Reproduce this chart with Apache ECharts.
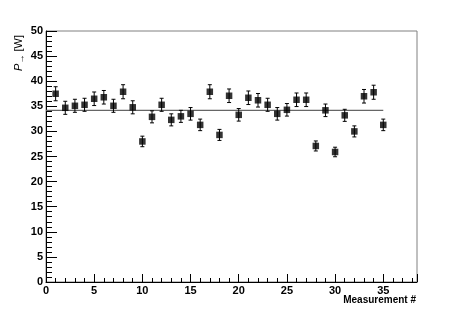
<!DOCTYPE html>
<html>
<head>
<meta charset="utf-8">
<script src="https://cdn.jsdelivr.net/npm/echarts@6/dist/echarts.min.js"></script>
<style>
html,body{margin:0;padding:0;background:#fff;}
#chart{width:463px;height:314px;}
</style>
</head>
<body>
<div id="chart"></div>
<script>
// Measurement index
var measurements = [1,2,3,4,5,6,7,8,9,10,11,12,13,14,15,16,17,18,19,20,21,22,23,24,25,26,27,28,29,30,31,32,33,34,35];
// Power values [W]
var powerValues = [37.5,34.7,35.1,35.3,36.5,36.8,35.1,37.9,34.8,28.0,32.9,35.3,32.3,33.0,33.5,31.3,37.9,29.3,37.1,33.3,36.7,36.2,35.3,33.5,34.3,36.3,36.3,27.1,34.2,25.9,33.2,30.0,37.0,37.8,31.3];
// Errors [W]
var powerErrors = [1.4,1.3,1.3,1.3,1.35,1.35,1.3,1.4,1.3,1.05,1.2,1.3,1.2,1.2,1.25,1.15,1.4,1.1,1.35,1.25,1.35,1.35,1.3,1.25,1.25,1.35,1.35,1.0,1.25,0.95,1.2,1.1,1.35,1.4,1.15];
// Fit (constant) line
var fitX = [0, 35];
var fitValue = 34.2;
// Axis titles
var xTitle = 'Measurement #';
var yTitle = '{p|P}{a|→} [W]';
// Axis settings
var xMin = 0, xMax = 38.5, xStep = 5;
var yMin = 0, yMax = 50, yStep = 5;

var pts = measurements.map(function(m,i){ return [m, powerValues[i], powerErrors[i]]; });
var fitData = fitX.map(function(x){ return [x, fitValue]; });

var chart = echarts.init(document.getElementById('chart'), null, {renderer:'canvas'});
var font = 'Liberation Sans, Arial, Helvetica, sans-serif';
chart.setOption({
  animation:false,
  backgroundColor:'#fff',
  grid:{left:46, top:31, right:46, bottom:32, show:true, borderColor:'#808080', borderWidth:1, backgroundColor:'transparent', containLabel:false, outerBoundsMode:'none'},
  xAxis:{
    type:'value', min:xMin, max:xMax, interval:xStep,
    axisLine:{show:true, onZero:false, lineStyle:{color:'#000', width:1}},
    axisTick:{show:true, inside:true, length:8, lineStyle:{color:'#000'}},
    minorTick:{show:true, splitNumber:5, length:4, lineStyle:{color:'#000'}},
    splitLine:{show:false},
    axisLabel:{fontFamily:font, fontSize:11, fontWeight:'bold', color:'#000', margin:3, showMaxLabel:false,
      formatter:function(v){ return (v % 5 === 0) ? String(v) : ''; }}
  },
  yAxis:{
    type:'value', min:yMin, max:yMax, interval:yStep,
    axisLine:{show:true, onZero:false, lineStyle:{color:'#000', width:1}},
    axisTick:{show:true, inside:true, length:11, lineStyle:{color:'#000'}},
    minorTick:{show:true, splitNumber:5, length:6, lineStyle:{color:'#000'}},
    splitLine:{show:false},
    axisLabel:{fontFamily:font, fontSize:11, fontWeight:'bold', color:'#000', margin:3}
  },
  graphic:[{
    type:'text', x:19, y:35, rotation:Math.PI/2,
    style:{
      text:yTitle,
      align:'right', verticalAlign:'middle',
      fontFamily:font, fontSize:11, fill:'#000',
      rich:{
        p:{fontFamily:font, fontSize:11, fontStyle:'italic', fill:'#000'},
        a:{fontFamily:font, fontSize:9, fill:'#000', padding:[5,0,0,0]}
      }
    }
  },{
    type:'text', x:416, y:300,
    style:{
      text:xTitle, align:'right', verticalAlign:'middle',
      fontFamily:font, fontSize:10, fontWeight:'bold', fill:'#000'
    }
  }],
  series:[
    {
      type:'line', data:fitData, symbol:'none', z:2,
      lineStyle:{color:'#666', width:1.3}
    },
    {
      type:'custom', z:3,
      data:pts,
      renderItem:function(params, api){
        var x = api.value(0), y = api.value(1), e = api.value(2);
        var top = api.coord([x, y+e]);
        var bot = api.coord([x, y-e]);
        var cw = 2;
        var st = {stroke:'#000', lineWidth:1};
        return {type:'group', children:[
          {type:'line', shape:{x1:top[0], y1:top[1], x2:bot[0], y2:bot[1]}, style:st},
          {type:'line', shape:{x1:top[0]-cw, y1:top[1], x2:top[0]+cw, y2:top[1]}, style:st},
          {type:'line', shape:{x1:bot[0]-cw, y1:bot[1], x2:bot[0]+cw, y2:bot[1]}, style:st}
        ]};
      }
    },
    {
      type:'scatter', data:pts, symbol:'rect', symbolSize:6.5, z:4,
      itemStyle:{color:'#000'}
    }
  ]
});
</script>
</body>
</html>
